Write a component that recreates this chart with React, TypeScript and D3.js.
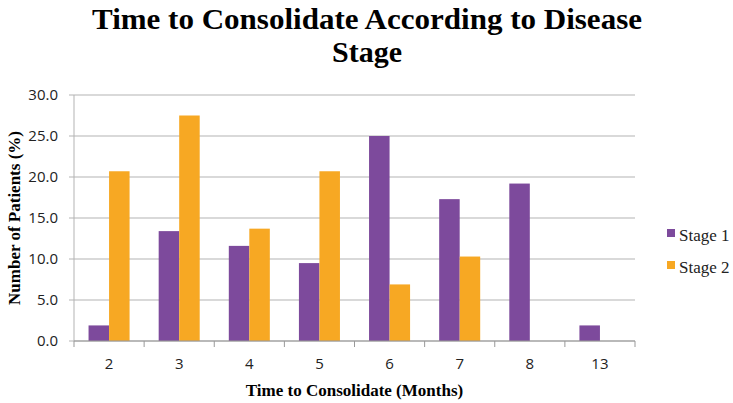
import React from 'react';
import * as d3 from 'd3';

const months = ['2', '3', '4', '5', '6', '7', '8', '13'];
const stage1 = [1.9, 13.4, 11.6, 9.5, 25.0, 17.3, 19.2, 1.9];
const stage2 = [20.7, 27.5, 13.7, 20.7, 6.9, 10.3, 0, 0];
const seriesNames = ['Stage 1', 'Stage 2'];
const seriesColors = ['#7d4a9c', '#f7a823'];
const yTicks = [0, 5, 10, 15, 20, 25, 30];

export default function App() {
  const width = 733;
  const height = 403;
  const margin = { top: 95, right: 98, bottom: 62, left: 74 };
  const innerWidth = width - margin.left - margin.right;
  const innerHeight = height - margin.top - margin.bottom;

  const x = d3.scaleBand<string>()
    .domain(months)
    .range([0, innerWidth])
    .paddingInner(0.415)
    .paddingOuter(0.2075);
  const step = x.step();
  const x1 = d3.scaleBand<string>()
    .domain(seriesNames)
    .range([0, x.bandwidth()]);

  const y = d3.scaleLinear().domain([0, 30]).range([innerHeight, 0]);

  const serif = '"Liberation Serif", "Times New Roman", serif';
  const sans = '"Open Sans", "DejaVu Sans", sans-serif';

  // left edge of each category cell (for axis ticks)
  const cellStart = (i: number) => i * step;

  return (
    <svg width={width} height={height} style={{ display: 'block', position: 'absolute', left: 0, top: 0 }}>
      <rect width={width} height={height} fill="#fff" />
      <text x={367} y={29} textAnchor="middle" fontFamily={serif} fontWeight="bold" fontSize={30} textLength={550} lengthAdjust="spacingAndGlyphs">
        Time to Consolidate According to Disease
      </text>
      <text x={367} y={62} textAnchor="middle" fontFamily={serif} fontWeight="bold" fontSize={30} textLength={70} lengthAdjust="spacingAndGlyphs">
        Stage
      </text>

      <g transform={`translate(${margin.left},${margin.top})`}>
        {yTicks.map(t => (
          <g key={t}>
            <line x1={-5} x2={innerWidth} y1={y(t)} y2={y(t)} stroke="#b3b3b3" strokeWidth={1} />
            <text x={-16} y={y(t)} dy="0.36em" textAnchor="end" fontFamily={sans} fontSize={15} fill="#222">
              {t.toFixed(1)}
            </text>
          </g>
        ))}
        <line x1={0} x2={0} y1={0} y2={innerHeight} stroke="#b3b3b3" />

        {months.map((m, i) => (
          <g key={m}>
            {[stage1[i], stage2[i]].map((v, s) => (
              v > 0 ? (
                <rect
                  key={s}
                  x={x(m)! + x1(seriesNames[s])!}
                  y={y(v)}
                  width={x1.bandwidth()}
                  height={innerHeight - y(v)}
                  fill={seriesColors[s]}
                />
              ) : null
            ))}
            <text x={x(m)! + x.bandwidth() / 2} y={innerHeight + 28} textAnchor="middle" fontFamily={sans} fontSize={15} fill="#222">
              {m}
            </text>
          </g>
        ))}

        <line x1={0} x2={innerWidth} y1={innerHeight} y2={innerHeight} stroke="#999" />
        {d3.range(months.length + 1).map(i => (
          <line key={i} x1={cellStart(i)} x2={cellStart(i)} y1={innerHeight} y2={innerHeight + 6} stroke="#999" />
        ))}
      </g>

      <text
        transform={`translate(20,${margin.top + innerHeight / 2}) rotate(-90)`}
        textAnchor="middle"
        fontFamily={serif}
        fontWeight="bold"
        fontSize={17}
      >
        Number of Patients (%)
      </text>
      <text x={margin.left + innerWidth / 2} y={396} textAnchor="middle" fontFamily={serif} fontWeight="bold" fontSize={17}>
        Time to Consolidate (Months)
      </text>

      {seriesNames.map((n, i) => (
        <g key={n} transform={`translate(667,${229 + i * 32})`}>
          <rect x={0} y={0} width={8} height={8} fill={seriesColors[i]} />
          <text x={12} y={12} fontFamily={serif} fontSize={17} fill="#222">{n}</text>
        </g>
      ))}
    </svg>
  );
}
